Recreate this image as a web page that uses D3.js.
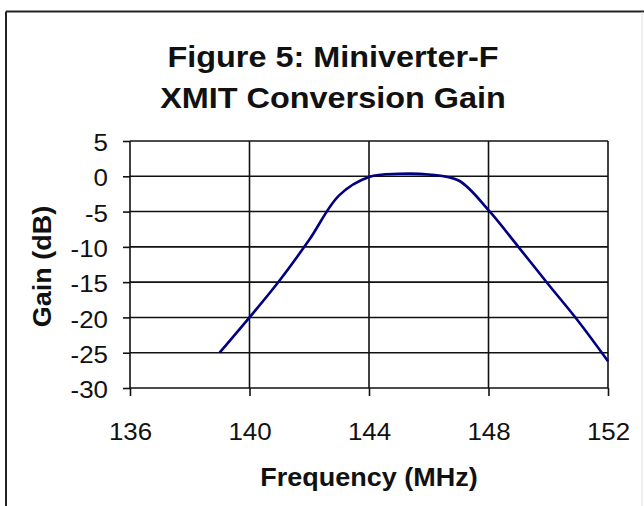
<!DOCTYPE html>
<html>
<head>
<meta charset="utf-8">
<script src="https://cdn.jsdelivr.net/npm/d3@7.9.0/dist/d3.min.js"></script>
<style>
  body { margin: 0; background: #fff; }
  svg { display: block; }
  text { font-family: "Liberation Sans", Arial, sans-serif; fill: #111; }
</style>
</head>
<body>
<svg id="chart" width="644" height="506"></svg>
<script>
// values
const freqMHz = [139, 140, 141, 142, 143, 144, 145, 146, 147, 148, 149, 150, 151, 152];
const gainDb = [-25, -20, -14.8, -9, -2.7, -0.1, 0.35, 0.25, -0.6, -4.8, -10, -15.3, -20.5, -26.2];
const xTicks = [136, 140, 144, 148, 152];
const yTicks = [5, 0, -5, -10, -15, -20, -25, -30];
const titleLines = ['Figure 5: Miniverter-F', 'XMIT Conversion Gain'];

const svg = d3.select('#chart');
const stretch = 1.08; // the reference text is a bit wider than tall

// frame round the chart
svg.append('line').attr('x1', 6).attr('x2', 644).attr('y1', 11.5).attr('y2', 11.5)
  .attr('stroke', '#222').attr('stroke-width', 2);
svg.append('line').attr('x1', 6).attr('x2', 6).attr('y1', 11.5).attr('y2', 506)
  .attr('stroke', '#222').attr('stroke-width', 2);
svg.append('line').attr('x1', 642).attr('x2', 642).attr('y1', 12).attr('y2', 506)
  .attr('stroke', '#ddd').attr('stroke-width', 1);

const x = d3.scaleLinear().domain([136, 152]).range([130, 608]);
const y = d3.scaleLinear().domain([-30, 5]).range([388, 141]);

// grid
svg.append('g').selectAll('line').data(yTicks).join('line')
  .attr('x1', x(136)).attr('x2', x(152))
  .attr('y1', d => y(d)).attr('y2', d => y(d))
  .attr('stroke', '#111').attr('stroke-width', 1.6);
svg.append('g').selectAll('line').data(xTicks).join('line')
  .attr('x1', d => x(d)).attr('x2', d => x(d))
  .attr('y1', y(5)).attr('y2', y(-30))
  .attr('stroke', '#111').attr('stroke-width', 1.6);

// axes (plain hyphen for negatives, like the reference)
const plain = d => String(d);
const yAxis = svg.append('g').attr('transform', `translate(${x(136)},0)`)
  .call(d3.axisLeft(y).tickValues(yTicks).tickFormat(plain).tickSize(7).tickPadding(15).tickSizeOuter(0));
const xAxis = svg.append('g').attr('transform', `translate(0,${y(-30)})`)
  .call(d3.axisBottom(x).tickValues(xTicks).tickFormat(plain).tickSize(8).tickPadding(27).tickSizeOuter(0));

[yAxis, xAxis].forEach(g => {
  g.select('.domain').remove();
  g.selectAll('.tick line').attr('stroke', '#111').attr('stroke-width', 1.6);
  g.selectAll('.tick text').attr('font-size', 24).attr('fill', '#222')
    .style('font-family', '"Liberation Sans", Arial, sans-serif');
});
yAxis.selectAll('.tick text')
  .attr('x', -22 / stretch).attr('dy', '0.4em')
  .attr('transform', `scale(${stretch},1)`);
xAxis.selectAll('.tick text')
  .attr('transform', `scale(${stretch},1)`);

// the series
const line = d3.line()
  .x((d, i) => x(freqMHz[i]))
  .y(d => y(d))
  .curve(d3.curveCatmullRom.alpha(0.5));
svg.append('path').datum(gainDb)
  .attr('d', line)
  .attr('fill', 'none')
  .attr('stroke', '#000080')
  .attr('stroke-width', 2.6)
  .attr('stroke-linejoin', 'round');

// titles
svg.append('g').selectAll('text').data(titleLines).join('text')
  .attr('transform', (d, i) => `translate(333,${67 + i * 41}) scale(${stretch},1)`)
  .attr('text-anchor', 'middle')
  .attr('font-size', 30).attr('font-weight', 'bold')
  .text(d => d);

svg.append('text')
  .attr('transform', `translate(${(x(136) + x(152)) / 2},486) scale(${stretch},1)`)
  .attr('text-anchor', 'middle')
  .attr('font-size', 25).attr('font-weight', 'bold')
  .text('Frequency (MHz)');

svg.append('text')
  .attr('transform', `translate(51,${(y(5) + y(-30)) / 2 + 2}) rotate(-90) scale(${stretch},1)`)
  .attr('text-anchor', 'middle')
  .attr('font-size', 25).attr('font-weight', 'bold')
  .text('Gain (dB)');
</script>
</body>
</html>
